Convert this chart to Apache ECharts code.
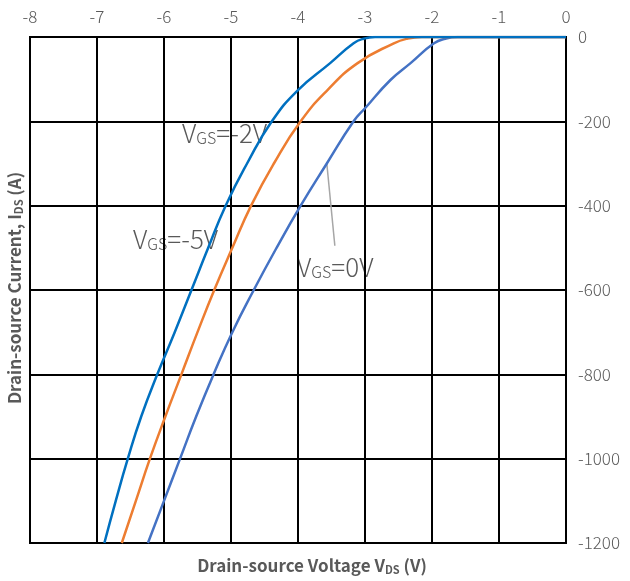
<!DOCTYPE html>
<html>
<head>
<meta charset="utf-8">
<script src="https://cdn.jsdelivr.net/npm/echarts@6/dist/echarts.min.js"></script>
<style>html,body{margin:0;padding:0;background:#fff}#c{width:630px;height:581px}</style>
</head>
<body>
<div id="c"></div>
<script>
// Data: [V_DS (V), I_DS (A)]
const vgsMinus5V = [[-6.89,-1200],[-6.72,-1100],[-6.54,-1000],[-6.34,-900],[-6.10,-800],[-5.84,-700],[-5.59,-600],[-5.34,-500],[-5.08,-400],[-4.76,-300],[-4.39,-200],[-4.00,-126],[-3.52,-62],[-3.17,-15],[-3.02,-4],[-2.85,0],[0,0]];
const vgsMinus2V = [[-6.63,-1200],[-6.42,-1100],[-6.21,-1000],[-5.98,-900],[-5.74,-800],[-5.50,-700],[-5.25,-600],[-4.98,-500],[-4.70,-400],[-4.36,-300],[-3.96,-200],[-3.56,-126],[-3.11,-62],[-2.57,-15],[-2.37,-4],[-2.15,0],[0,0]];
const vgs0V = [[-6.24,-1200],[-6.00,-1100],[-5.76,-1000],[-5.52,-900],[-5.26,-800],[-4.98,-700],[-4.66,-600],[-4.32,-500],[-3.96,-400],[-3.57,-300],[-3.17,-200],[-3.00,-169],[-2.62,-102],[-2.32,-62],[-1.97,-15],[-1.80,-4],[-1.62,0],[0,0]];
const leader0V = [[-3.57,-300],[-3.45,-495]];

const gray = '#595959';
const font = 'Noto Sans CJK SC';
const chart = echarts.init(document.getElementById('c'));
const sub = (sz, pad, w) => ({fontSize: sz, fontFamily: font, fontWeight: w, fill: gray, verticalAlign: 'bottom', padding: [pad,0,0,0]});
const lbl = (x, y, t) => ({
  type: 'text', x: x, y: y, silent: true,
  style: {
    text: t, fill: gray, font: '300 26px "' + font + '"', verticalAlign: 'middle',
    rich: {
      a: {fontSize: 26, fontFamily: font, fill: gray, fontWeight: 300},
      s: sub(16, 9, 300)
    }
  }
});
chart.setOption({
  animation: false,
  grid: {left: 30, right: 64, top: 37, bottom: 38, show: true, borderColor: '#000', borderWidth: 2, containLabel: false, outerBoundsMode: 'none'},
  xAxis: {
    type: 'value', position: 'top', min: -8, max: 0, interval: 1,
    axisLine: {show: true, lineStyle: {color: '#000', width: 2}},
    axisTick: {show: false},
    axisLabel: {color: gray, fontSize: 17, fontFamily: font, fontWeight: 300, margin: 12},
    splitLine: {show: true, lineStyle: {color: '#000', width: 2}}
  },
  yAxis: {
    type: 'value', position: 'right', min: -1200, max: 0, interval: 200,
    axisLine: {show: true, lineStyle: {color: '#000', width: 2}},
    axisTick: {show: false},
    axisLabel: {color: gray, fontSize: 17, fontFamily: font, fontWeight: 300, margin: 12, formatter: v => String(v)},
    splitLine: {show: true, lineStyle: {color: '#000', width: 2}}
  },
  graphic: [
    lbl(182, 133, '{a|V}{s|GS}{a|=-2V}'),
    lbl(133, 239, '{a|V}{s|GS}{a|=-5V}'),
    lbl(297, 267, '{a|V}{s|GS}{a|=0V}'),
    {type: 'text', x: 312, y: 566, silent: true,
      style: {text: 'Drain-source Voltage V{s|DS} (V)', fill: gray, font: 'bold 17px "' + font + '"', align: 'center', verticalAlign: 'middle',
        rich: {s: sub(11, 7, 'bold')}}},
    {type: 'text', x: 15, y: 288, rotation: Math.PI/2, silent: true,
      style: {text: 'Drain-source Current, I{s|DS} (A)', fill: gray, font: 'bold 17px "' + font + '"', align: 'center', verticalAlign: 'middle',
        rich: {s: sub(11, 7, 'bold')}}}
  ],
  series: [
    {type: 'line', name: 'VGS=-5V', data: vgsMinus5V, showSymbol: false, smooth: 0.5, lineStyle: {color: '#0070C0', width: 2.5}, z: 5},
    {type: 'line', name: 'VGS=-2V', data: vgsMinus2V, showSymbol: false, smooth: 0.5, lineStyle: {color: '#ED7D31', width: 2.5}, z: 4},
    {type: 'line', name: 'VGS=0V', data: vgs0V, showSymbol: false, smooth: 0.5, lineStyle: {color: '#4472C4', width: 2.5}, z: 3},
    {type: 'line', name: 'leader', data: leader0V, showSymbol: false, lineStyle: {color: '#A6A6A6', width: 1.5}, z: 2}
  ]
});
</script>
</body>
</html>
